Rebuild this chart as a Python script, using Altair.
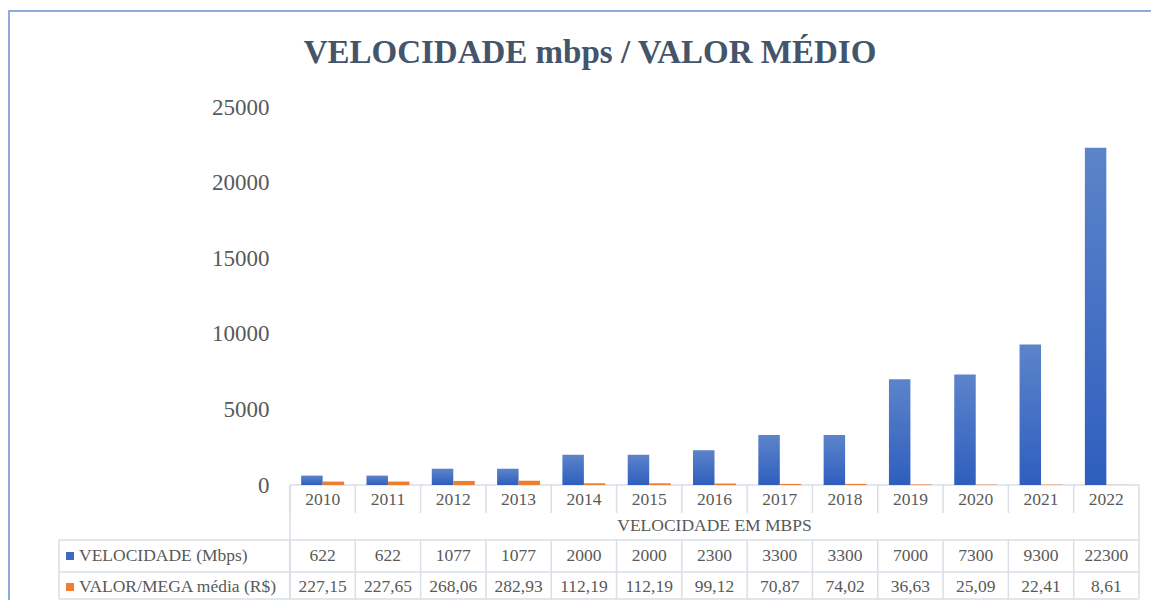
import altair as alt
import pandas as pd

# ---------------- data ----------------
years = [str(y) for y in range(2010, 2023)]
velocidade = [622, 622, 1077, 1077, 2000, 2000, 2300, 3300, 3300, 7000, 7300, 9300, 22300]
valor_mega = [227.15, 227.65, 268.06, 282.93, 112.19, 112.19, 99.12, 70.87, 74.02, 36.63, 25.09, 22.41, 8.61]
series_names = ["VELOCIDADE (Mbps)", "VALOR/MEGA média (R$)"]
title_text = "VELOCIDADE mbps / VALOR MÉDIO"
x_title_text = "VELOCIDADE EM MBPS"
y_ticks = [0, 5000, 10000, 15000, 20000, 25000]

# ---------------- tables ----------------
long_df = pd.DataFrame({
    "year": years * 2,
    "series": [series_names[0]] * len(years) + [series_names[1]] * len(years),
    "value": velocidade + valor_mega,
})
wide_df = pd.DataFrame({
    "year": years,
    "vel_txt": [str(v) for v in velocidade],
    "val_txt": [f"{v:.2f}".replace(".", ",") for v in valor_mega],
})
one = pd.DataFrame({"label0": [series_names[0]], "label1": [series_names[1]],
                    "title": [title_text], "xtitle": [x_title_text]})

# ---------------- style ----------------
W, H = 849, 378
PAD_R = 12
SERIF = "Liberation Serif"
TXT = "#595959"
LINE = "#d9dee7"
ORANGE = "#ed7d31"
BLUE_SOLID = "#3d69c5"
FRAME = "#8faadc"
blue_grad = alt.Gradient(
    gradient="linear",
    stops=[alt.GradientStop(color="#5d84ca", offset=0),
           alt.GradientStop(color="#2e5ebe", offset=1)],
    x1=0, x2=0, y1=0, y2=1,
)

x_enc = alt.X("year:N", sort=years,
              scale=alt.Scale(domain=years, paddingInner=0, paddingOuter=0),
              axis=None)
x_edge = alt.X("year:N", sort=years, bandPosition=0,
               scale=alt.Scale(domain=years, paddingInner=0, paddingOuter=0),
               axis=None)
xoff = alt.XOffset("series:N",
                   scale=alt.Scale(domain=series_names, paddingInner=0, paddingOuter=0.52))
y_enc = alt.Y("value:Q",
              scale=alt.Scale(domain=[0, 25000], nice=False),
              axis=alt.Axis(values=y_ticks, format="d", domain=False, ticks=False, grid=False,
                            labelFont=SERIF, labelFontSize=23, labelColor=TXT,
                            labelPadding=21, title=None))

bars_blue = alt.Chart(long_df).transform_filter(
    alt.datum.series == series_names[0]
).mark_bar(color=blue_grad).encode(x=x_enc, xOffset=xoff, y=y_enc)

bars_orange = alt.Chart(long_df).transform_filter(
    alt.datum.series == series_names[1]
).mark_bar(color=ORANGE).encode(x=x_enc, xOffset=xoff, y=y_enc)


def hrule(yv, x1, x2, color=LINE, sw=1.5):
    return alt.Chart(one).mark_rule(color=color, strokeWidth=sw).encode(
        x=alt.value(x1), x2=alt.value(x2), y=alt.value(yv))


def vrule(xv, y1, y2, color=LINE, sw=1.5):
    return alt.Chart(one).mark_rule(color=color, strokeWidth=sw).encode(
        x=alt.value(xv), y=alt.value(y1), y2=alt.value(y2))


# table grid
Y_HDR_TOP, Y_HDR_BOT = H, 406
Y_ROWS_TOP, Y_MID, Y_BOT = 433, 465, 492
X_LEFT = -231

col_edges_hdr = alt.Chart(wide_df).mark_rule(color=LINE, strokeWidth=1.5).encode(
    x=x_edge, y=alt.value(Y_HDR_TOP), y2=alt.value(Y_HDR_BOT))
col_edges_rows = alt.Chart(wide_df).mark_rule(color=LINE, strokeWidth=1.5).encode(
    x=x_edge, y=alt.value(Y_ROWS_TOP), y2=alt.value(Y_BOT))

grid = [
    hrule(Y_HDR_TOP, 0, W),
    hrule(Y_ROWS_TOP, X_LEFT, W),
    hrule(Y_MID, X_LEFT, W),
    hrule(Y_BOT, X_LEFT, W),
    vrule(0, Y_HDR_TOP, Y_BOT),
    vrule(W, Y_HDR_TOP, Y_BOT),
    vrule(X_LEFT, Y_ROWS_TOP, Y_BOT),
    col_edges_hdr,
    col_edges_rows,
]

# outer frame: only the left and top edges are inside the picture
frame = [
    vrule(-281, -96, H + 115, color=FRAME, sw=2),
    hrule(-96, -282, W + PAD_R, color=FRAME, sw=2),
]

txt_kw = dict(font=SERIF, fontSize=17.5, color=TXT, baseline="middle")
year_txt = alt.Chart(wide_df).mark_text(**txt_kw).encode(
    x=x_enc, y=alt.value(393), text="year:N")
xtitle_txt = alt.Chart(one).mark_text(**txt_kw).encode(
    x=alt.value(W / 2), y=alt.value(419), text="xtitle:N")
row1_txt = alt.Chart(wide_df).mark_text(**txt_kw).encode(
    x=x_enc, y=alt.value(449), text="vel_txt:N")
row2_txt = alt.Chart(wide_df).mark_text(**txt_kw).encode(
    x=x_enc, y=alt.value(480), text="val_txt:N")
lab1 = alt.Chart(one).mark_text(align="left", **txt_kw).encode(
    x=alt.value(-211), y=alt.value(449), text="label0:N")
lab2 = alt.Chart(one).mark_text(align="left", **txt_kw).encode(
    x=alt.value(-211), y=alt.value(480), text="label1:N")
sq1 = alt.Chart(one).mark_rect(color=BLUE_SOLID).encode(
    x=alt.value(-224), x2=alt.value(-216), y=alt.value(445), y2=alt.value(453))
sq2 = alt.Chart(one).mark_rect(color=ORANGE).encode(
    x=alt.value(-224), x2=alt.value(-216), y=alt.value(476), y2=alt.value(484))

title_mark = alt.Chart(one).mark_text(
    font=SERIF, fontSize=33, fontWeight="bold", color="#44546a", baseline="middle"
).encode(x=alt.value(300), y=alt.value(-54), text="title:N")

chart = alt.layer(
    *frame, *grid, bars_blue, bars_orange, year_txt, xtitle_txt,
    row1_txt, row2_txt, lab1, lab2, sq1, sq2, title_mark
).properties(
    width=W, height=H,
    autosize=alt.AutoSizeParams(type="none"),
    padding={"left": 282, "top": 99, "right": PAD_R, "bottom": 115},
).configure_view(stroke=None)

chart.save("out.html", embed_options={"renderer": "svg", "actions": False})
